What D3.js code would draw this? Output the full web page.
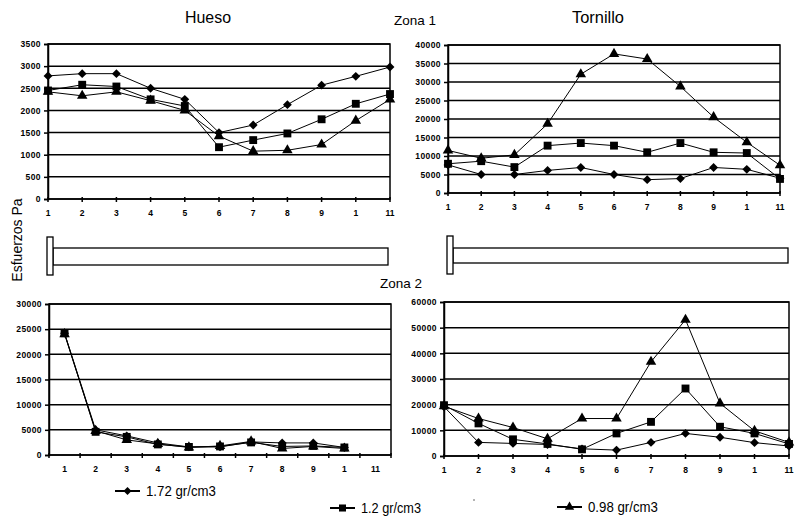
<!DOCTYPE html>
<html>
<head>
<meta charset="utf-8">
<script src="https://cdn.jsdelivr.net/npm/d3@7"></script>
<style>
  body { margin: 0; background: #fff; }
  svg { display: block; font-family: "Liberation Sans", Arial, sans-serif; }
  .tick text { font-weight: bold; font-size: 8.5px; }
</style>
</head>
<body>
<svg id="chart" width="796" height="516"></svg>
<script>
// categories along x (position 10 is printed as "1" in the original)
const xLabels = ["1", "2", "3", "4", "5", "6", "7", "8", "9", "1", "11"];
const seriesNames = ["1.72 gr/cm3", "1.2 gr/cm3", "0.98 gr/cm3"];

// Hueso, Zona 1
const huesoZ1_172 = [2780, 2830, 2830, 2500, 2250, 1500, 1670, 2130, 2570, 2770, 2980];
const huesoZ1_120 = [2450, 2580, 2540, 2250, 2100, 1170, 1330, 1480, 1800, 2150, 2370];
const huesoZ1_098 = [2420, 2330, 2420, 2220, 2000, 1420, 1080, 1100, 1230, 1770, 2250];

// Tornillo, Zona 1
const tornZ1_172 = [7600, 5000, 5000, 6100, 6900, 5000, 3600, 3900, 6900, 6400, 4000];
const tornZ1_120 = [7900, 8600, 7000, 12800, 13500, 12800, 11000, 13500, 11000, 10800, 3800];
const tornZ1_098 = [11500, 9400, 10300, 18700, 32100, 37600, 36200, 28800, 20500, 13700, 7500];

// Hueso, Zona 2 (no value at 11)
const huesoZ2_172 = [24200, 5000, 3800, 2400, 1600, 1600, 2600, 2400, 2400, 1500];
const huesoZ2_120 = [24200, 4600, 3600, 2100, 1600, 1700, 2500, 1700, 1800, 1500];
const huesoZ2_098 = [24000, 4800, 3000, 2200, 1500, 1800, 2700, 1300, 1700, 1300];

// Tornillo, Zona 2
const tornZ2_172 = [19200, 5300, 4900, 4500, 2800, 2300, 5300, 8800, 7300, 5200, 3900];
const tornZ2_120 = [19800, 12700, 6500, 4700, 2600, 8800, 13300, 26300, 11400, 8800, 4700];
const tornZ2_098 = [19400, 14600, 11100, 6700, 14600, 14600, 36700, 53100, 20500, 9800, 5300];

const svg = d3.select("#chart");
const symbols = [d3.symbolDiamond2, d3.symbolSquare, d3.symbolTriangle];
const symSize = [50, 62, 48];

function panel(box, yMax, yStep, series, between) {
  const g = svg.append("g");
  const y = d3.scaleLinear().domain([0, yMax]).range([box.b, box.t]);
  const idx = d3.range(xLabels.length);
  let xPos, tickPos;
  if (between) {
    const band = d3.scaleBand().domain(idx).range([box.l, box.r]).padding(0);
    xPos = i => band(i) + band.bandwidth() / 2;
    tickPos = idx.map(i => band(i)).concat([box.r]);
  } else {
    const pt = d3.scalePoint().domain(idx).range([box.l, box.r]).padding(0);
    xPos = i => pt(i);
    tickPos = idx.map(i => pt(i));
  }
  const yTicks = d3.range(0, yMax + 1, yStep);

  // gridlines
  g.append("g").selectAll("line").data(yTicks).join("line")
    .attr("x1", box.l).attr("x2", box.r)
    .attr("y1", d => y(d)).attr("y2", d => y(d))
    .attr("stroke", "#000").attr("stroke-width", 1.5);

  // frame
  g.append("rect")
    .attr("x", box.l).attr("y", box.t)
    .attr("width", box.r - box.l).attr("height", box.b - box.t)
    .attr("fill", "none").attr("stroke", "#000").attr("stroke-width", 1.5);

  // y axis
  const ya = g.append("g").attr("transform", `translate(${box.l},0)`)
    .call(d3.axisLeft(y).tickValues(yTicks).tickSize(4).tickPadding(3).tickFormat(d3.format("d")));
  ya.select(".domain").attr("stroke-width", 1.5);
  ya.selectAll(".tick line").attr("stroke-width", 1.5);
  ya.selectAll("text").attr("letter-spacing", "0.4px");

  // x tick marks
  g.append("g").selectAll("line").data(tickPos).join("line")
    .attr("x1", d => d).attr("x2", d => d)
    .attr("y1", box.b - 2).attr("y2", box.b + 3)
    .attr("stroke", "#000").attr("stroke-width", 1.5);
  // x labels
  g.append("g").selectAll("text").data(idx).join("text")
    .attr("x", i => xPos(i)).attr("y", box.b + 17)
    .attr("text-anchor", "middle")
    .attr("font-size", 8.5).attr("font-weight", "bold")
    .text(i => xLabels[i]);

  const lineGen = d3.line().x((d, i) => xPos(i)).y(d => y(d));
  series.forEach((vals, s) => {
    g.append("path").datum(vals).attr("d", lineGen)
      .attr("fill", "none").attr("stroke", "#000").attr("stroke-width", 1);
    g.append("g").selectAll("path").data(vals).join("path")
      .attr("transform", (d, i) => `translate(${xPos(i)},${y(d)})`)
      .attr("d", d3.symbol(symbols[s], symSize[s]))
      .attr("fill", "#000");
  });
}

panel({ l: 48, r: 390, t: 44, b: 199 }, 3500, 500, [huesoZ1_172, huesoZ1_120, huesoZ1_098], false);
panel({ l: 448, r: 780, t: 45, b: 193 }, 40000, 5000, [tornZ1_172, tornZ1_120, tornZ1_098], false);
panel({ l: 49, r: 391, t: 304, b: 455 }, 30000, 5000, [huesoZ2_172, huesoZ2_120, huesoZ2_098], true);
panel({ l: 444, r: 789, t: 302, b: 456 }, 60000, 10000, [tornZ2_172, tornZ2_120, tornZ2_098], false);

// titles (condensed look of the original)
function title(x, y, size, w, txt) {
  svg.append("text").attr("x", x - w / 2).attr("y", y)
    .attr("font-size", size).attr("textLength", w).attr("lengthAdjust", "spacingAndGlyphs")
    .text(txt);
}
title(208, 23, 16, 46, "Hueso");
title(598, 23, 16, 52, "Tornillo");
title(415, 25, 13, 42, "Zona 1");
title(401, 288, 13, 42, "Zona 2");
svg.append("text").attr("transform", "translate(22,240) rotate(-90)")
  .attr("text-anchor", "middle").attr("font-size", 14).text("Esfuerzos Pa");

// screw / bone sketches
function sketch(x0, x1, yT, yB, bT, bB) {
  svg.append("rect").attr("x", x0 + 6).attr("y", bT).attr("width", x1 - x0 - 6).attr("height", bB - bT)
    .attr("fill", "#fff").attr("stroke", "#000").attr("stroke-width", 1.3);
  svg.append("rect").attr("x", x0).attr("y", yT).attr("width", 6).attr("height", yB - yT)
    .attr("fill", "#fff").attr("stroke", "#000").attr("stroke-width", 1.3);
}
sketch(47, 388, 237, 275, 248, 265);
sketch(447, 788, 236, 274, 248, 263);

// legend
const legend = [
  { x: 115, y: 491, w: 70 },
  { x: 330, y: 508, w: 60 },
  { x: 557, y: 507, w: 70 }
];
legend.forEach((p, s) => {
  svg.append("line").attr("x1", p.x).attr("x2", p.x + 25).attr("y1", p.y).attr("y2", p.y)
    .attr("stroke", "#000").attr("stroke-width", 2);
  svg.append("path").attr("transform", `translate(${p.x + 12.5},${p.y})`)
    .attr("d", d3.symbol(symbols[s], symSize[s] * 0.8)).attr("fill", "#000");
  svg.append("text").attr("x", p.x + 31).attr("y", p.y + 5)
    .attr("font-size", 14).attr("textLength", p.w).attr("lengthAdjust", "spacingAndGlyphs")
    .text(seriesNames[s]);
});
// stray dot between legend items
svg.append("circle").attr("cx", 474).attr("cy", 500).attr("r", 0.8).attr("fill", "#555");
</script>
</body>
</html>
